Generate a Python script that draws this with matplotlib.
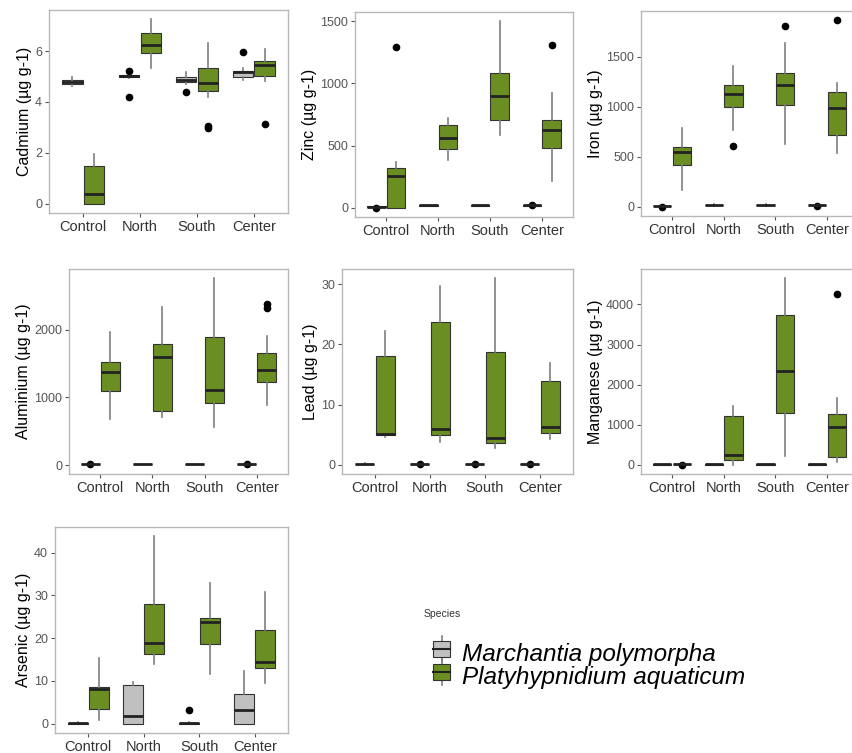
import matplotlib
matplotlib.use("Agg")
import matplotlib.pyplot as plt
from matplotlib.ticker import MultipleLocator
from matplotlib.patches import Patch, Rectangle
from matplotlib.lines import Line2D
from matplotlib.legend_handler import HandlerBase

plt.rcParams['font.family'] = ['Liberation Sans', 'DejaVu Sans']

LOCATIONS = ["Control", "North", "South", "Center"]
SPECIES = ["Marchantia polymorpha", "Platyhypnidium aquaticum"]

# box stats per location: (whislo, q1, med, q3, whishi)
CD_MP = [(4.62, 4.71, 4.78, 4.86, 4.97), (4.95, 4.97, 5.02, 5.06, 5.10),
         (4.70, 4.77, 4.86, 4.99, 5.19), (4.85, 4.97, 5.19, 5.23, 5.35)]
CD_PA = [(0.0, 0.0, 0.39, 1.48, 1.97), (5.35, 5.94, 6.23, 6.71, 7.25),
         (4.20, 4.42, 4.75, 5.35, 6.30), (4.84, 5.03, 5.45, 5.59, 6.09)]
CD_MP_OUT = [[], [5.20, 4.18], [4.39], [5.96]]
CD_PA_OUT = [[], [], [3.05, 2.98], [3.14]]

ZN_MP = [(2, 5, 8, 11, 16), (15, 17, 19, 21, 23), (14, 16, 18, 20, 22), (12, 16, 20, 23, 27)]
ZN_PA = [(0, 0, 255, 320, 366), (387, 472, 560, 662, 720),
         (587, 707, 899, 1081, 1500), (213, 480, 627, 707, 921)]
ZN_MP_OUT = [[0], [], [], [25]]
ZN_PA_OUT = [[1294], [], [], [1313]]

FE_MP = [(0, 3, 6, 9, 12), (10, 13, 16, 19, 22), (10, 13, 16, 19, 22), (8, 12, 15, 18, 22)]
FE_PA = [(167, 417, 550, 600, 790), (767, 1000, 1127, 1217, 1410),
         (623, 1023, 1223, 1340, 1643), (540, 717, 993, 1150, 1240)]
FE_MP_OUT = [[0], [], [], [5]]
FE_PA_OUT = [[], [610], [1810], [1867]]

AL_MP = [(5, 10, 15, 20, 25), (10, 13, 16, 19, 22), (10, 13, 16, 19, 22), (5, 10, 15, 20, 25)]
AL_PA = [(681, 1096, 1383, 1521, 1975), (711, 800, 1600, 1793, 2340),
         (563, 918, 1111, 1896, 2765), (889, 1225, 1407, 1654, 1911)]
AL_MP_OUT = [[10], [], [], [8]]
AL_PA_OUT = [[], [], [], [2390, 2320]]

PB_MP = [(0, 0.05, 0.1, 0.15, 0.2)] * 4
PB_PA = [(4.6, 5.0, 5.1, 18.1, 22.2), (3.8, 5.0, 6.0, 23.7, 29.8),
         (2.8, 3.6, 4.4, 18.7, 31.0), (4.3, 5.3, 6.2, 13.9, 16.9)]
PB_MP_OUT = [[], [0.1], [0.1], [0.1]]
PB_PA_OUT = [[], [], [], []]

MN_MP = [(0, 3, 5, 8, 10)] * 4
MN_PA = [(5, 8, 12, 16, 20), (0, 109, 234, 1222, 1473),
         (209, 1297, 2351, 3732, 4653), (67, 192, 929, 1255, 1674)]
MN_MP_OUT = [[], [], [], []]
MN_PA_OUT = [[0], [], [], [4251]]

AS_MP = [(0, 0, 0.1, 0.2, 0.3), (0, 0, 1.7, 9.0, 9.8),
         (0, 0, 0.1, 0.2, 0.3), (0, 0, 3.1, 7.0, 12.3)]
AS_PA = [(0.9, 3.4, 8.0, 8.6, 15.4), (13.9, 16.3, 18.8, 28.0, 43.8),
         (11.7, 18.6, 23.7, 24.6, 32.8), (9.4, 13.1, 14.5, 22.0, 30.9)]
AS_MP_OUT = [[], [], [3.3], []]
AS_PA_OUT = [[], [], [], []]

PANELS = [
    ("Cadmium", CD_MP, CD_PA, CD_MP_OUT, CD_PA_OUT, 2),
    ("Zinc", ZN_MP, ZN_PA, ZN_MP_OUT, ZN_PA_OUT, 500),
    ("Iron", FE_MP, FE_PA, FE_MP_OUT, FE_PA_OUT, 500),
    ("Aluminium", AL_MP, AL_PA, AL_MP_OUT, AL_PA_OUT, 1000),
    ("Lead", PB_MP, PB_PA, PB_MP_OUT, PB_PA_OUT, 10),
    ("Manganese", MN_MP, MN_PA, MN_MP_OUT, MN_PA_OUT, 1000),
    ("Arsenic", AS_MP, AS_PA, AS_MP_OUT, AS_PA_OUT, 10),
]

# axes boxes in pixels: left, right, top, bottom
W, H = 853, 753
BOXES = [(49, 288, 10, 213), (355, 573, 12, 217), (641, 858, 11, 216),
         (69, 288, 269, 474), (342, 573, 269, 474), (641, 858, 269, 474),
         (55, 288, 527, 733)]

GREEN = "#6b8e23"
GREY = "#c0c0c0"
EDGE = "#333333"
WHISK = "#7f7f7f"


def stats_list(rows, outs):
    return [dict(whislo=r[0], q1=r[1], med=r[2], q3=r[3], whishi=r[4], fliers=o)
            for r, o in zip(rows, outs)]


def draw_boxes(ax, rows, outs, pos, color):
    ax.bxp(stats_list(rows, outs), positions=pos, widths=0.36, patch_artist=True,
           showcaps=False,
           boxprops=dict(facecolor=color, edgecolor=EDGE, linewidth=0.8),
           whiskerprops=dict(color=WHISK, linewidth=1.2),
           medianprops=dict(color="#222222", linewidth=2),
           flierprops=dict(marker="o", markersize=4.5, markerfacecolor="black",
                           markeredgecolor="black"))


fig = plt.figure(figsize=(W / 100, H / 100), dpi=100)

for (name, mp, pa, mp_out, pa_out, step), (l, r, t, b) in zip(PANELS, BOXES):
    ax = fig.add_axes([l / W, 1 - b / H, (r - l) / W, (b - t) / H])
    x = list(range(1, len(LOCATIONS) + 1))
    draw_boxes(ax, mp, mp_out, [i - 0.19 for i in x], GREY)
    draw_boxes(ax, pa, pa_out, [i + 0.19 for i in x], GREEN)

    vals = [v for row in mp + pa for v in row] + [v for o in mp_out + pa_out for v in o]
    lo, hi = min(vals), max(vals)
    pad = (hi - lo) * 0.05
    ax.set_ylim(lo - pad, hi + pad)
    ax.set_xlim(0.4, 4.6)
    ax.set_xticks(x)
    ax.set_xticklabels(LOCATIONS)
    ax.yaxis.set_major_locator(MultipleLocator(step))
    ax.set_ylabel(f"{name} (\u00b5g g-1)", fontsize=11.5, labelpad=2)
    ax.tick_params(labelsize=9, colors="#555555", length=3, width=0.8, pad=2)
    ax.tick_params(axis="x", labelsize=10.5, labelcolor="#333333")
    for s in ax.spines.values():
        s.set_color("#b8b8b8")
        s.set_linewidth(1)


class BoxKey(HandlerBase):
    def create_artists(self, legend, orig, xd, yd, w, h, fontsize, trans):
        cx = xd + w / 2
        wl = Line2D([cx, cx], [yd - 0.15 * h, yd + 1.15 * h], color=WHISK, lw=1.2,
                    transform=trans)
        box = Rectangle((xd, yd + 0.1 * h), w, 0.8 * h, facecolor=orig.get_facecolor(),
                        edgecolor=EDGE, lw=0.8, transform=trans)
        med = Line2D([xd, xd + w], [yd + 0.5 * h, yd + 0.5 * h], color="#222222", lw=1.5,
                     transform=trans)
        return [wl, box, med]


fig.text(424 / W, 1 - 614 / H, "Species", fontsize=7.5, color="#333333", va="center")
handles = [Patch(facecolor=GREY), Patch(facecolor=GREEN)]
fig.legend(handles, SPECIES, loc="upper left", bbox_to_anchor=(421 / W, 1 - 630 / H),
           frameon=False, prop=dict(size=17.5, style="italic"),
           handler_map={Patch: BoxKey()}, handlelength=0.7, handleheight=0.9,
           handletextpad=0.5, labelspacing=0.0, borderpad=0)

fig.savefig("out.png", dpi=100)
